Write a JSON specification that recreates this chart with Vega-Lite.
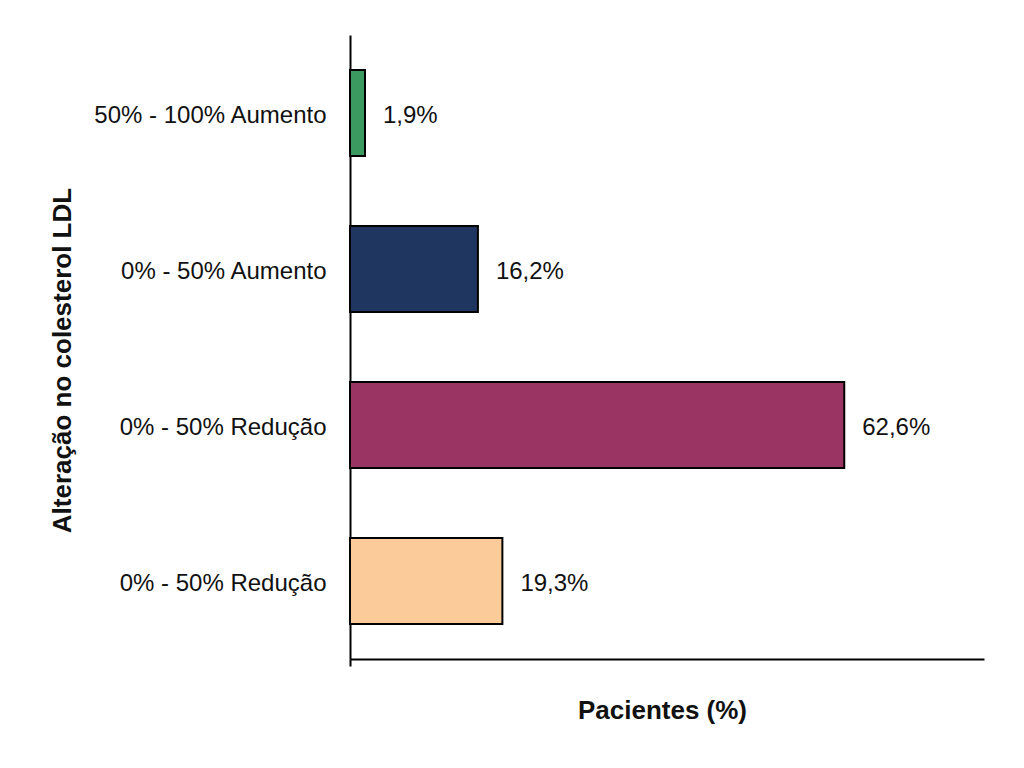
{
  "$schema": "https://vega.github.io/schema/vega-lite/v6.json",
  "width": 634,
  "height": 624,
  "autosize": "none",
  "padding": {"left": 350, "top": 35, "right": 40, "bottom": 109},
  "background": "white",
  "config": {"view": {"stroke": null}},
  "data": {"values": [
    {"id": "a", "cat": "50% - 100% Aumento", "v": 1.9, "color": "#3a9a60"},
    {"id": "b", "cat": "0% - 50% Aumento", "v": 16.2, "color": "#1f3661"},
    {"id": "c", "cat": "0% - 50% Redução", "v": 62.6, "color": "#993463"},
    {"id": "d", "cat": "0% - 50% Redução", "v": 19.3, "color": "#fbcb99"}
  ]},
  "transform": [
    {"calculate": "replace(format(datum.v, '.1f'), '.', ',') + '%'", "as": "label"}
  ],
  "encoding": {
    "y": {
      "field": "id", "type": "nominal", "sort": null,
      "scale": {"paddingInner": 0.45, "paddingOuter": 0.225},
      "axis": {
        "title": "Alteração no colesterol LDL",
        "labelExpr": "{'a':'50% - 100% Aumento','b':'0% - 50% Aumento','c':'0% - 50% Redução','d':'0% - 50% Redução'}[datum.value]",
        "labelFont": "Liberation Sans", "labelFontSize": 24, "labelColor": "#111",
        "labelPadding": 24, "labelLimit": 400, "labelOffset": 3, "ticks": false,
        "domainColor": "black", "domainWidth": 2,
        "titleFont": "Liberation Sans", "titleFontSize": 26, "titleFontWeight": "bold", "titleColor": "#111",
        "titleX": -288, "titleY": 325, "titleAlign": "center", "titleBaseline": "middle", "titleAngle": -90
      }
    },
    "x": {
      "field": "v", "type": "quantitative",
      "scale": {"domain": [0, 80.3], "nice": false},
      "axis": {
        "title": "Pacientes (%)", "values": [0], "labels": false, "grid": false,
        "tickColor": "black", "tickWidth": 2, "tickSize": 7,
        "domainColor": "black", "domainWidth": 2,
        "titleFont": "Liberation Sans", "titleFontSize": 26, "titleFontWeight": "bold", "titleColor": "#111",
        "titleX": 312, "titleY": 51, "titleAlign": "center", "titleBaseline": "middle"
      }
    }
  },
  "layer": [
    {
      "mark": {"type": "bar", "stroke": "black", "strokeWidth": 2},
      "encoding": {"color": {"field": "color", "type": "nominal", "scale": null}}
    },
    {
      "mark": {"type": "text", "align": "left", "baseline": "middle", "dx": 18, "dy": 3, "font": "Liberation Sans", "fontSize": 24, "color": "#111"},
      "encoding": {"text": {"field": "label"}}
    }
  ]
}
